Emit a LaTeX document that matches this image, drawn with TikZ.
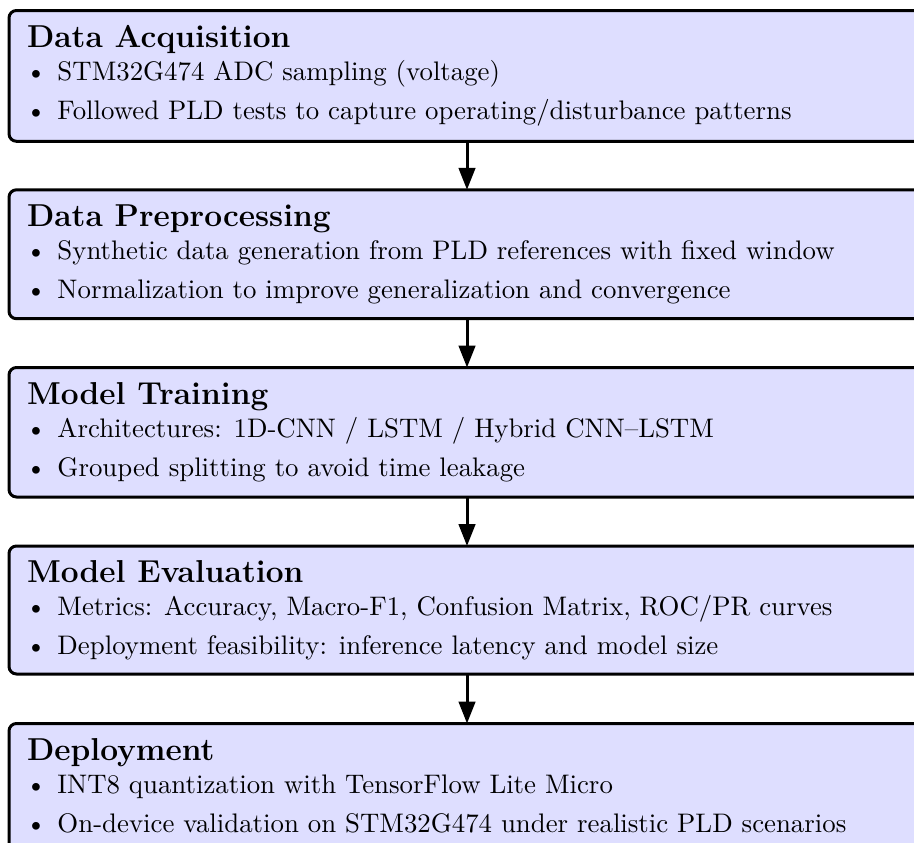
\documentclass[tikz,border=0pt]{standalone}
\usetikzlibrary{arrows.meta}
\tikzset{
  stagebox/.style={draw=black, line width=1.2pt, fill=blue!13, rounded corners=3pt,
    inner sep=0pt, outer sep=0pt, anchor=north west, minimum width=366.4pt},
  ttl/.style={anchor=base west, inner sep=0pt, font=\fontsize{12.67pt}{15pt}\selectfont\bfseries},
  itm/.style={anchor=base west, inner sep=0pt, font=\fontsize{10.73pt}{13pt}\selectfont},
  flow/.style={line width=1.2pt, -{Triangle[length=8.8pt,width=6.6pt]}}
}
\newcommand\bul[1]{\makebox[12.8pt][l]{\textbullet}#1}
\newcommand\stagebox[6]{%
  \node[stagebox, minimum height=#3*0.4pt] (b#1) at (9,#2) {};
  \node[ttl] (t#1) at (26.5,#2+36.5) {#4};
  \node[itm] (p#1a) at (25,#2+69.5) {\bul{#5}};
  \node[itm] (p#1b) at (25,#2+108.5) {\bul{#6}};
}
\begin{document}
\begin{tikzpicture}[x=0.4pt,y=-0.4pt]
\useasboundingbox (0,0) rectangle (914,842);
\clip (0,0) rectangle (914,842);
\stagebox{1}{10.5}{130.8}{Data Acquisition}{STM32G474 ADC sampling (voltage)}{Followed PLD tests to capture operating/disturbance patterns}
\stagebox{2}{189.8}{128.9}{Data Preprocessing}{Synthetic data generation from PLD references with fixed window}{Normalization to improve generalization and convergence}
\stagebox{3}{367.5}{129.5}{Model Training}{Architectures: 1D-CNN / LSTM / Hybrid CNN--LSTM}{Grouped splitting to avoid time leakage}
\stagebox{4}{546}{128}{Model Evaluation}{Metrics: Accuracy, Macro-F1, Confusion Matrix, ROC/PR curves}{Deployment feasibility: inference latency and model size}
\stagebox{5}{723.5}{129}{Deployment}{INT8 quantization with TensorFlow Lite Micro}{On-device validation on STM32G474 under realistic PLD scenarios}
\draw[flow] (b1.south) -- (b2.north);
\draw[flow] (b2.south) -- (b3.north);
\draw[flow] (b3.south) -- (b4.north);
\draw[flow] (b4.south) -- (b5.north);
\end{tikzpicture}
\end{document}
